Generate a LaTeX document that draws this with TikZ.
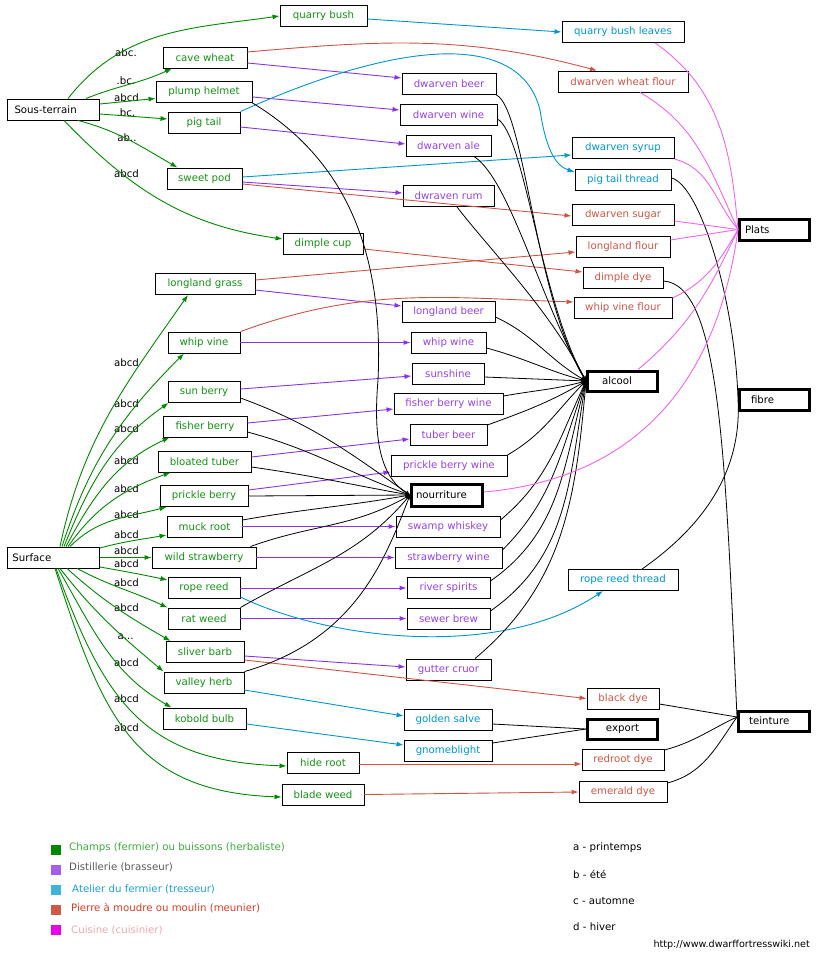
\documentclass[tikz,border=0pt]{standalone}
\usepackage{fontspec}
\setmainfont{DejaVu Sans}
\usetikzlibrary{arrows.meta}
\definecolor{herb}{RGB}{0,136,0}
\definecolor{herbtxt}{RGB}{20,145,20}
\definecolor{still}{RGB}{140,50,230}
\definecolor{stilltxt}{RGB}{150,65,230}
\definecolor{loom}{RGB}{0,150,205}
\definecolor{mill}{RGB}{205,85,70}
\definecolor{kitchen}{RGB}{240,100,240}
\definecolor{keyA}{RGB}{0,136,0}
\definecolor{keyB}{RGB}{165,95,235}
\definecolor{keyC}{RGB}{60,180,220}
\definecolor{keyD}{RGB}{205,90,70}
\definecolor{keyE}{RGB}{235,0,235}
\definecolor{keytxtA}{RGB}{60,170,60}
\definecolor{keytxtB}{RGB}{90,90,90}
\definecolor{keytxtC}{RGB}{30,160,215}
\definecolor{keytxtD}{RGB}{215,60,40}
\definecolor{keytxtE}{RGB}{235,170,170}
\tikzset{
    %Define style for boxes
    plant/.style={
           rectangle,
           draw=black, line width=0.9pt,
           minimum height=21,
           inner sep=0pt,
           text=herbtxt,
           },
    brew/.style={plant, text=stilltxt},
    craft/.style={plant, text=loom},
    flour/.style={plant, text=mill},
    source/.style={plant, text=black, align=left, inner ysep=0pt},
    goal/.style={
           rectangle,
           draw=black, line width=3pt,
           inner ysep=0pt,
           text=black,
           align=left,
           },
    season/.style={inner sep=0pt, text=black},
    swatch/.style={rectangle, inner sep=0pt, minimum size=10},
    keytext/.style={inner sep=0pt, anchor=west},
    % Define arrow styles
    sprout/.style={draw=herb, line width=0.9pt, -{Latex[length=7pt,width=5pt]}},
    distil/.style={draw=still, line width=0.9pt, -{Latex[length=7pt,width=5pt]}},
    weave/.style={draw=loom, line width=0.9pt, -{Latex[length=7pt,width=5pt]}},
    grind/.style={draw=mill, line width=0.9pt, -{Latex[length=7pt,width=5pt]}},
    cook/.style={draw=kitchen, line width=0.9pt},
    feed/.style={draw=black, line width=0.8pt, -{Stealth[length=5pt,width=4pt]}},
    link/.style={draw=black, line width=0.8pt},
}
\begin{document}
\begin{tikzpicture}[x=1pt,y=1pt,font=\fontsize{10.2}{12}\selectfont]
\useasboundingbox (0,0) rectangle (820,-960);
 %nodes
\node[source, text width=78pt, inner xsep=7pt] (st) at (53.5,-109.5) {Sous-terrain};
\node[source, text width=82pt, inner xsep=5pt] (sf) at (53.5,-557.5) {Surface};
% plants
\node[plant, minimum width=87] (qb) at (323.5,-16) {quarry bush};
\node[plant, minimum width=84] (cw) at (205,-57.5) {cave wheat};
\node[plant, minimum width=96] (ph) at (204,-92) {plump helmet};
\node[plant, minimum width=72] (pt) at (204,-122.5) {pig tail};
\node[plant, minimum width=75] (sp) at (204.5,-178.5) {sweet pod};
\node[plant, minimum width=80] (dc) at (323,-244) {dimple cup};
\node[plant, minimum width=100] (lg) at (205,-284) {longland grass};
\node[plant, minimum width=72] (wv) at (204,-342.5) {whip vine};
\node[plant, minimum width=72] (sb) at (204,-392) {sun berry};
\node[plant, minimum width=84] (fb) at (205,-426.5) {fisher berry};
\node[plant, minimum width=93] (bt) at (204.5,-461.5) {bloated tuber};
\node[plant, minimum width=88] (pb) at (204,-496) {prickle berry};
\node[plant, minimum width=75] (mr) at (204.5,-526.5) {muck root};
\node[plant, minimum width=104] (ws) at (204,-557.5) {wild strawberry};
\node[plant, minimum width=72] (rr) at (204,-588) {rope reed};
\node[plant, minimum width=72] (rw) at (204,-618.5) {rat weed};
\node[plant, minimum width=78] (sl) at (205,-652) {sliver barb};
\node[plant, minimum width=80] (vh) at (204,-682.5) {valley herb};
\node[plant, minimum width=83] (kb) at (204.5,-718.5) {kobold bulb};
\node[plant, minimum width=72] (hr) at (323,-762.5) {hide root};
\node[plant, minimum width=82] (bw) at (323,-794.5) {blade weed};
% drinks
\node[brew, minimum width=94] (db) at (449,-84) {dwarven beer};
\node[brew, minimum width=97] (dwi) at (448.5,-114.5) {dwarven wine};
\node[brew, minimum width=85] (dal) at (448.5,-145.5) {dwarven ale};
\node[brew, minimum width=91] (drum) at (448.5,-196) {dwraven rum};
\node[brew, minimum width=93] (lb) at (448.5,-312) {longland beer};
\node[brew, minimum width=75] (ww) at (448.5,-342.5) {whip wine};
\node[brew, minimum width=72] (sun) at (448,-373.5) {sunshine};
\node[brew, minimum width=109] (fbw) at (448.5,-404) {fisher berry wine};
\node[brew, minimum width=77] (tb) at (448.5,-435) {tuber beer};
\node[brew, minimum width=116] (pbw) at (449,-466) {prickle berry wine};
\node[brew, minimum width=104] (swi) at (448,-526.5) {swamp whiskey};
\node[brew, minimum width=107] (swine) at (448.5,-557.5) {strawberry wine};
\node[brew, minimum width=83] (rs) at (448.5,-588) {river spirits};
\node[brew, minimum width=83] (sbr) at (448.5,-618.5) {sewer brew};
\node[brew, minimum width=85] (gc) at (448.5,-669.5) {gutter cruor};
% threads and salves
\node[craft, minimum width=122] (qbl) at (623,-32) {quarry bush leaves};
\node[craft, minimum width=102] (dsy) at (623,-148) {dwarven syrup};
\node[craft, minimum width=96] (ptt) at (623,-180) {pig tail thread};
\node[craft, minimum width=110] (rrt) at (623,-580) {rope reed thread};
\node[craft, minimum width=88] (gs) at (448,-720) {golden salve};
\node[craft, minimum width=88] (gb) at (448,-750.5) {gnomeblight};
% flours and dyes
\node[flour, minimum width=130] (dwf) at (623,-81.5) {dwarven wheat flour};
\node[flour, minimum width=102] (dsu) at (623,-215) {dwarven sugar};
\node[flour, minimum width=94] (lf) at (623,-246.5) {longland flour};
\node[flour, minimum width=80] (dd) at (623,-277.5) {dimple dye};
\node[flour, minimum width=98] (wvf) at (623,-308) {whip vine flour};
\node[flour, minimum width=72] (bd) at (623,-698.5) {black dye};
\node[flour, minimum width=82] (rd) at (623,-760) {redroot dye};
\node[flour, minimum width=88] (ed) at (623,-792) {emerald dye};
% uses
\node[goal, text width=62pt, inner xsep=4.5pt, minimum height=22] (nr) at (447,-495) {nourriture};
\node[goal, text width=41pt, inner xsep=14.5pt, minimum height=20] (al) at (622.5,-381) {alcool};
\node[goal, text width=59pt, inner xsep=5.5pt, minimum height=21] (pl) at (774.5,-229.5) {Plats};
\node[goal, text width=47pt, inner xsep=11.5pt, minimum height=21] (fi) at (774.5,-399.5) {fibre};
\node[goal, minimum width=70, minimum height=20, inner xsep=0pt] (ex) at (622.5,-729) {export};
\node[goal, text width=50pt, inner xsep=10.5pt, minimum height=20] (te) at (774,-721) {teinture};
% seasons on the edges
\node[season] (s1) at (126,-52.3) {abc.};
\node[season] (s2) at (126,-81) {.bc.};
\node[season] (s3) at (126.5,-97.3) {abcd};
\node[season] (s4) at (126,-112.3) {.bc.};
\node[season] (s5) at (127,-137.3) {ab..};
\node[season] (s6) at (126.5,-173.3) {abcd};
\foreach \y [count=\i] in {363,404,429,461,489,515,535,551,564,583,608,663,699,728}
    \node[season] (g\i) at (126.5,-\y) {abcd};
\node[season] (ga) at (125.7,-637) {a...};

 %edges
\draw[sprout] ([xshift=14.5]st.north) to[out=52,in=188] (qb.west);
\draw[sprout] ([xshift=32.5]st.north) to[out=22,in=205] ([xshift=-33]cw.south);
\draw[sprout] ([yshift=5.5]st.east) -- ([yshift=-6.5]ph.west);
\draw[sprout] ([yshift=-4.5]st.east) -- ([yshift=3.5]pt.west);
\draw[sprout] ([xshift=24.5]st.south) to[out=-15,in=150] ([xshift=-27]sp.north);
\draw[sprout] ([xshift=10.5]st.south) to[out=-46,in=172] ([yshift=5]dc.west);
\draw[sprout] ([xshift=6.5]sf.north) to[out=78,in=235] ([xshift=-17]lg.south);
\draw[sprout] ([xshift=8.5]sf.north) to[out=72,in=225] ([xshift=-20]wv.south);
\draw[sprout] ([xshift=10.5]sf.north) to[out=68,in=215] ([xshift=1]sb.south west);
\draw[sprout] ([xshift=12.5]sf.north) to[out=62,in=205] ([xshift=7]fb.south west);
\draw[sprout] ([xshift=14.5]sf.north) to[out=55,in=200] ([xshift=13]bt.south west);
\draw[sprout] ([xshift=16.5]sf.north) to[out=45,in=195] ([xshift=7]pb.south west);
\draw[sprout] ([yshift=9.5]sf.east) to[out=15,in=190] ([yshift=-8.5]mr.west);
\draw[sprout] (sf.east) -- (ws.west);
\draw[sprout] ([yshift=-9.5]sf.east) to[out=-10,in=168] ([yshift=8]rr.west);
\draw[sprout] ([xshift=23.5]sf.south) to[out=-28,in=155] (rw.north west);
\draw[sprout] ([xshift=13.5]sf.south) to[out=-42,in=150] ([xshift=5]sl.north west);
\draw[sprout] ([xshift=6.5]sf.south) to[out=-52,in=140] (vh.north west);
\draw[sprout] ([xshift=4.5]sf.south) to[out=-60,in=150] ([xshift=9]kb.north west);
\draw[sprout] ([xshift=2.5]sf.south) to[out=-70,in=178,looseness=1.2] ([yshift=-3.5]hr.west);
\draw[sprout] ([xshift=1.5]sf.south) to[out=-72,in=178,looseness=1.2] ([yshift=-2.5]bw.west);
% distillery
\draw[distil] ([yshift=-5.5]cw.east) -- ([yshift=6]db.west);
\draw[distil] ([yshift=-5]ph.east) -- ([yshift=4.5]dwi.west);
\draw[distil] ([yshift=-4.5]pt.east) -- ([yshift=1.5]dal.west);
\draw[distil] ([yshift=-3.5]sp.east) -- ([yshift=3]drum.west);
\draw[distil] ([yshift=-6]lg.east) -- ([yshift=6]lb.west);
\draw[distil] (wv.east) -- (ww.west);
\draw[distil] ([yshift=3]sb.east) -- ([yshift=-2.5]sun.west);
\draw[distil] ([yshift=3.5]fb.east) -- ([yshift=-5]fbw.west);
\draw[distil] ([yshift=4.5]bt.east) -- ([yshift=-4]tb.west);
\draw[distil] ([yshift=6]pb.east) -- ([yshift=-6]pbw.west);
\draw[distil] (mr.east) -- (swi.west);
\draw[distil] (ws.east) -- (swine.west);
\draw[distil] (rr.east) -- (rs.west);
\draw[distil] (rw.east) -- (sbr.west);
\draw[distil] ([yshift=-4]sl.east) -- ([yshift=2.5]gc.west);
% farmer's workshop
\draw[weave] ([yshift=-3]qb.east) -- (qbl.west);
\draw[weave] (pt.north east) .. controls (400,-40) and (520,-30) .. (540,-110)
    .. controls (546,-150) and (556,-166) .. ([yshift=8]ptt.west);
\draw[weave] ([yshift=1.5]sp.east) -- ([yshift=-7]dsy.west);
\draw[weave] ([yshift=-9]rr.east) .. controls (330,-640) and (500,-660) .. ([xshift=-20]rrt.south);
\draw[weave] ([yshift=-7.5]vh.east) -- ([yshift=4]gs.west);
\draw[weave] ([yshift=-5.5]kb.east) -- ([yshift=5.5]gb.west);
% millstone
\draw[grind] ([yshift=5.5]cw.east) to[out=5,in=165] ([xshift=-26]dwf.north);
\draw[grind] ([yshift=-5.5]sp.east) -- ([yshift=-1]dsu.west);
\draw[grind] ([yshift=4]lg.east) -- ([yshift=-5.5]lf.west);
\draw[grind] ([yshift=-5]dc.east) -- ([yshift=5.5]dd.west);
\draw[grind] (wv.north east) to[out=20,in=178] ([yshift=6]wvf.west);
\draw[grind] ([yshift=-8]sl.east) -- (bd.west);
\draw[grind] ([yshift=-1.5]hr.east) -- ([yshift=-4]rd.west);
\draw[grind] (bw.east) -- (ed.west);
% food
\draw[feed] (ph.south east) .. controls (330,-150) and (385,-230) .. (378,-380)
    .. controls (372,-450) and (385,-480) .. (nr.west);
\draw[feed] ([yshift=-6]sb.east) to[out=-20,in=145] (nr.west);
\draw[feed] ([yshift=-5.5]fb.east) to[out=-15,in=160] (nr.west);
\draw[feed] ([yshift=-5.5]bt.east) to[out=-8,in=170] (nr.west);
\draw[feed] (pb.east) -- (nr.west);
\draw[feed] ([yshift=6.5]mr.east) to[out=10,in=190] (nr.west);
\draw[feed] ([xshift=-6]ws.north east) to[out=20,in=210] (nr.west);
\draw[feed] (rw.north east) to[out=30,in=230] (nr.west);
\draw[feed] (vh.north east) .. controls (355,-640) and (385,-560) .. (nr.west);
% drinks
\draw[feed] (db.south east) .. controls (525,-110) and (535,-300) .. (al.west);
\draw[feed] ([yshift=-4.5]dwi.east) .. controls (525,-135) and (540,-300) .. (al.west);
\draw[feed] ([xshift=25.5]dal.south) .. controls (510,-180) and (540,-300) .. (al.west);
\draw[feed] ([xshift=8.5]drum.south) .. controls (490,-250) and (550,-310) .. (al.west);
\draw[feed] ([yshift=-5]lb.east) to[out=-25,in=150] (al.west);
\draw[feed] ([yshift=-5.5]ww.east) to[out=-15,in=165] (al.west);
\draw[feed] ([yshift=-3.5]sun.east) -- (al.west);
\draw[feed] ([yshift=8]fbw.east) to[out=10,in=195] (al.west);
\draw[feed] ([yshift=10]tb.east) to[out=20,in=210] (al.west);
\draw[feed] ([yshift=11]pbw.east) to[out=30,in=225] (al.west);
\draw[feed] ([yshift=6.5]swi.east) to[out=40,in=245] (al.west);
\draw[feed] ([yshift=7.5]swine.east) to[out=45,in=250] (al.west);
\draw[feed] ([yshift=7]rs.east) to[out=35,in=255] (al.west);
\draw[feed] ([yshift=7.5]sbr.east) to[out=35,in=260] (al.west);
\draw[feed] ([xshift=26.5]gc.north) to[out=40,in=265] (al.west);
% export, dye, fibre
\draw[link] ([yshift=-4]gs.east) -- (ex.west);
\draw[link] ([yshift=7.5]gb.east) -- (ex.west);
\draw[link] ([yshift=-3.5]dd.east) .. controls (720,-285) and (725,-450) .. ([yshift=4]te.west);
\draw[link] ([yshift=-5.5]bd.east) -- ([yshift=4]te.west);
\draw[link] ([yshift=10]rd.east) to[out=15,in=205] ([yshift=4]te.west);
\draw[link] ([yshift=9]ed.east) to[out=15,in=235] ([yshift=4]te.west);
\draw[link] ([yshift=2]ptt.east) .. controls (700,-185) and (735,-300) .. (fi.west);
\draw[link] ([xshift=19]rrt.north) .. controls (705,-525) and (742,-470) .. (fi.west);
% kitchen
\draw[cook] ([xshift=32]qbl.south) to[out=-35,in=95] (pl.west);
\draw[cook] ([xshift=17]dwf.south) to[out=-30,in=115] (pl.west);
\draw[cook] ([yshift=-11]dsy.east) to[out=-15,in=130] (pl.west);
\draw[cook] ([yshift=-6]dsu.east) -- (pl.west);
\draw[cook] ([yshift=6.5]lf.east) -- (pl.west);
\draw[cook] ([yshift=10]wvf.east) to[out=25,in=240] (pl.west);
\draw[cook] ([xshift=15.5]al.north) to[out=40,in=245] (pl.west);
\draw[cook] ([yshift=3]nr.east) .. controls (620,-480) and (715,-400) .. (pl.west);

 %legend
\node[swatch, fill=keyA] (k1) at (56,-850) {};
\node[swatch, fill=keyB] (k2) at (56,-870) {};
\node[swatch, fill=keyC] (k3) at (56,-890) {};
\node[swatch, fill=keyD] (k4) at (56,-910) {};
\node[swatch, fill=keyE] (k5) at (56,-930) {};
\node[keytext, text=keytxtA] (t1) at (69,-848) {Champs (fermier) ou buissons (herbaliste)};
\node[keytext, text=keytxtB] (t2) at (69,-867) {Distillerie (brasseur)};
\node[keytext, text=keytxtC] (t3) at (72,-889) {Atelier du fermier (tresseur)};
\node[keytext, text=keytxtD] (t4) at (71,-908) {Pierre à moudre ou moulin (meunier)};
\node[keytext, text=keytxtE] (t5) at (71,-930) {Cuisine (cuisinier)};
\node[keytext] (a) at (573,-848) {a - printemps};
\node[keytext] (b) at (573,-874) {b - été};
\node[keytext] (c) at (573,-901) {c - automne};
\node[keytext] (d) at (573,-927) {d - hiver};
\node[keytext, anchor=east, font=\fontsize{9.6}{11}\selectfont] (url) at (810,-945) {http://www.dwarffortresswiki.net};
\end{tikzpicture}
\end{document}
